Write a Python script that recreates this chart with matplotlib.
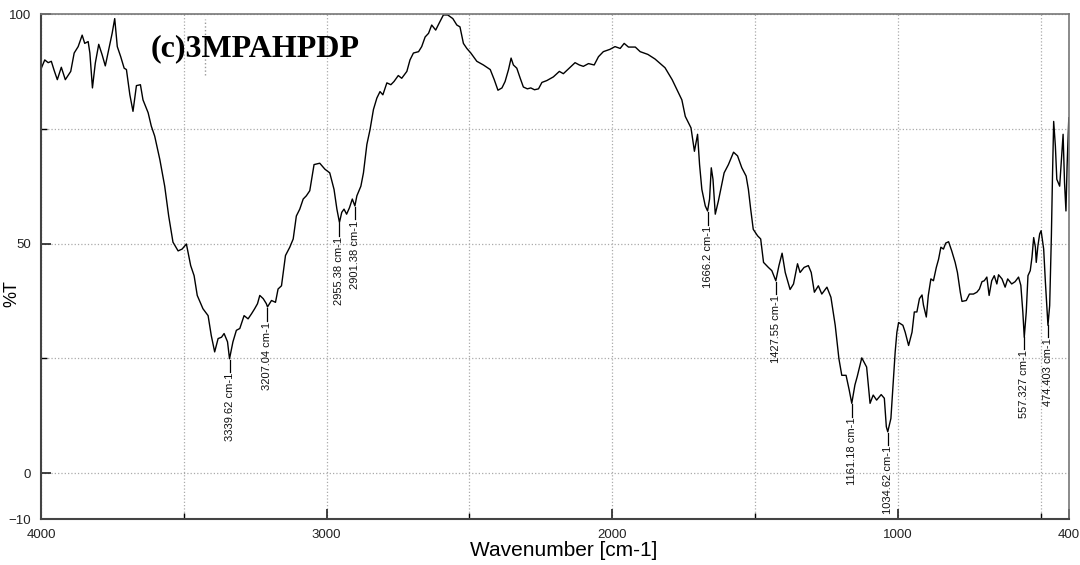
import numpy as np
import matplotlib
matplotlib.use("Agg")
import matplotlib.pyplot as plt

# traced IR spectrum (wavenumber in cm-1, transmittance in %T)
wavenumber = [
    3999, 3987, 3975, 3964, 3954, 3943, 3929, 3915, 3896, 3884, 3870, 3856,
    3847, 3835, 3829, 3820, 3810, 3798, 3786, 3775, 3763, 3751, 3742, 3733,
    3721, 3709, 3701, 3689, 3678, 3666, 3652, 3643, 3625, 3614, 3602, 3584,
    3567, 3553, 3538, 3520, 3506, 3491, 3476, 3464, 3453, 3433, 3415, 3404,
    3392, 3380, 3368, 3359, 3347, 3340, 3328, 3316, 3304, 3289, 3275, 3263,
    3252, 3242, 3234, 3222, 3211, 3207, 3193, 3179, 3170, 3158, 3144, 3129,
    3117, 3106, 3094, 3082, 3071, 3059, 3044, 3024, 3006, 2989, 2974, 2964,
    2955, 2947, 2939, 2930, 2920, 2910, 2901, 2894, 2880, 2871, 2859, 2848,
    2836, 2824, 2813, 2803, 2789, 2775, 2764, 2749, 2737, 2719, 2708, 2696,
    2678, 2667, 2655, 2643, 2632, 2618, 2606, 2591, 2576, 2558, 2544, 2533,
    2521, 2509, 2495, 2474, 2451, 2427, 2413, 2400, 2386, 2375, 2363, 2354,
    2346, 2334, 2322, 2311, 2297, 2285, 2272, 2258, 2246, 2229, 2206, 2185,
    2171, 2154, 2130, 2115, 2101, 2083, 2063, 2048, 2031, 2008, 1990, 1972,
    1958, 1943, 1919, 1902, 1875, 1850, 1815, 1790, 1769, 1756, 1744, 1733,
    1724, 1712, 1701, 1694, 1686, 1674, 1666, 1659, 1653, 1647, 1639, 1628,
    1608, 1593, 1575, 1561, 1546, 1531, 1523, 1515, 1506, 1491, 1480, 1470,
    1453, 1441, 1427, 1416, 1405, 1394, 1377, 1365, 1351, 1342, 1328, 1313,
    1303, 1292, 1278, 1266, 1248, 1234, 1219, 1206, 1196, 1181, 1170, 1161,
    1150, 1142, 1126, 1109, 1097, 1086, 1074, 1058, 1047, 1040, 1035, 1024,
    1015, 1009, 1003, 997, 982, 974, 962, 950, 942, 933, 924, 915,
    910, 900, 893, 884, 875, 865, 857, 849, 840, 832, 822, 811,
    799, 791, 781, 775, 760, 749, 735, 723, 714, 705, 697, 688,
    680, 671, 662, 653, 647, 635, 624, 615, 601, 589, 577, 569,
    562, 557, 550, 544, 536, 530, 524, 518, 515, 509, 503, 498,
    489, 483, 477, 474, 468, 462, 458, 454, 448, 443, 433, 427,
    421, 416, 411, 407, 401,
]
transmittance = [
    88.2, 90.0, 89.4, 89.7, 87.7, 85.7, 88.4, 85.7, 87.5, 91.5, 92.9, 95.4,
    93.6, 94.0, 91.5, 83.9, 89.3, 93.4, 91.1, 88.7, 92.2, 95.8, 99.0, 92.9,
    90.7, 88.2, 87.9, 82.4, 78.8, 84.4, 84.6, 81.3, 78.5, 75.6, 73.4, 68.3,
    62.5, 56.0, 50.3, 48.4, 48.8, 49.9, 45.2, 43.0, 38.7, 35.8, 34.3, 30.0,
    26.4, 29.3, 29.6, 30.4, 28.6, 24.9, 28.6, 31.1, 31.5, 34.3, 33.6, 34.7,
    35.8, 36.9, 38.7, 38.0, 36.9, 36.2, 37.6, 37.2, 40.1, 40.8, 47.4, 49.2,
    51.0, 56.0, 57.5, 59.7, 60.4, 61.5, 67.2, 67.5, 66.2, 65.4, 61.8, 57.5,
    54.6, 56.8, 57.5, 56.4, 57.8, 59.7, 58.2, 60.4, 62.5, 65.4, 71.6, 74.8,
    79.2, 81.7, 83.1, 82.4, 85.0, 84.6, 85.3, 86.6, 86.0, 87.5, 90.0, 91.5,
    91.8, 92.9, 95.0, 95.8, 97.6, 96.5, 98.0, 99.8, 99.8, 99.0, 97.6, 97.2,
    93.6, 92.5, 91.5, 89.7, 88.9, 87.9, 85.7, 83.4, 83.9, 85.3, 87.9, 90.4,
    88.9, 88.2, 86.0, 84.1, 83.7, 83.9, 83.5, 83.7, 85.1, 85.5, 86.3, 87.5,
    87.0, 88.0, 89.4, 88.9, 88.6, 89.2, 88.9, 90.7, 91.8, 92.3, 92.9, 92.5,
    93.6, 92.8, 92.8, 91.8, 91.2, 90.2, 88.3, 85.7, 83.0, 81.3, 77.7, 76.3,
    75.2, 70.1, 73.8, 67.2, 61.8, 58.2, 57.1, 59.7, 66.5, 64.0, 56.4, 59.3,
    65.4, 67.2, 69.9, 69.1, 66.5, 64.7, 61.8, 57.5, 53.1, 51.7, 51.0, 45.9,
    44.8, 44.1, 41.9, 45.2, 47.9, 43.7, 40.0, 41.2, 45.6, 43.7, 44.8, 45.2,
    43.7, 39.4, 40.8, 39.0, 40.5, 38.3, 32.2, 24.9, 21.3, 21.3, 18.1, 15.2,
    19.2, 21.0, 25.1, 23.1, 15.2, 17.0, 15.9, 17.1, 16.3, 10.1, 9.0, 11.9,
    20.6, 26.4, 30.7, 32.8, 32.2, 30.7, 27.8, 30.7, 35.1, 35.1, 38.0, 38.8,
    36.6, 34.0, 38.7, 42.3, 41.9, 44.8, 46.6, 49.2, 48.8, 50.1, 50.4, 48.4,
    45.9, 43.7, 39.4, 37.4, 37.6, 39.0, 39.0, 39.4, 40.1, 41.7, 41.9, 42.7,
    38.7, 41.9, 43.0, 41.2, 43.2, 42.3, 40.5, 42.3, 41.2, 41.7, 42.7, 40.9,
    35.1, 29.6, 35.1, 43.0, 44.1, 47.0, 51.3, 49.2, 45.9, 49.6, 52.1, 52.8,
    48.8, 41.6, 35.1, 32.2, 36.5, 51.7, 65.1, 76.6, 71.2, 64.0, 62.5, 68.3,
    73.8, 63.3, 57.1, 66.9, 77.4,
]

# labelled peaks
peak_wn = [3339.62, 3207.04, 2955.38, 2901.38, 1666.2, 1427.55,
           1161.18, 1034.62, 557.327, 474.403]
peak_labels = ["3339.62 cm-1", "3207.04 cm-1", "2955.38 cm-1", "2901.38 cm-1",
               "1666.2 cm-1", "1427.55 cm-1", "1161.18 cm-1", "1034.62 cm-1",
               "557.327 cm-1", "474.403 cm-1"]

x_ticks = [4000, 3000, 2000, 1000, 400]
x_minor = [3500, 2500, 1500, 500]
y_ticks = [100, 50, 0, -10]
y_minor = [75, 25]

fig = plt.figure(figsize=(10.8, 5.65), dpi=100)
ax = fig.add_axes([0.038, 0.0814, 0.9519, 0.8938])

ax.plot(wavenumber, transmittance, color="black", lw=1.0)

# peak markers: short tick under the dip, rotated label below
wn_rev = np.array(wavenumber[::-1], dtype=float)
t_rev = np.array(transmittance[::-1], dtype=float)
for wn, lab in zip(peak_wn, peak_labels):
    t = np.interp(wn, wn_rev, t_rev)
    ax.plot([wn, wn], [t - 0.3, t - 3.0], color="black", lw=0.9)
    ax.text(wn, t - 3.2, lab, rotation=90, ha="center", va="top",
            fontsize=8, family="Liberation Sans", color="#111111")

ax.text(3618, 92.4, "(c)3MPAHPDP", fontsize=23, fontweight="bold",
        family="Liberation Serif", va="center", ha="left")
# stray dotted cursor line near the title
ax.plot([0.159, 0.159], [0.88, 0.99], transform=ax.transAxes,
        color="#999999", lw=1.0, ls=":")

ax.set_xlim(4000, 400)
ax.set_ylim(-10, 100)
ax.set_xticks(x_ticks)
ax.set_xticks(x_minor, minor=True)
ax.set_yticks(y_ticks)
ax.set_yticks(y_minor, minor=True)
ax.grid(True, which="both", color="#aaaaaa", ls=":", lw=0.9)
ax.tick_params(which="major", direction="in", length=7, width=1.2,
               labelsize=9.5, colors="#222222", pad=7)
ax.tick_params(which="minor", direction="in", length=4, width=1.0)
for lab in ax.get_xticklabels() + ax.get_yticklabels():
    lab.set_family("Liberation Sans")

for side in ["top", "right"]:
    ax.spines[side].set_color("#777777")
    ax.spines[side].set_linewidth(1.2)
for side in ["left", "bottom"]:
    ax.spines[side].set_color("#444444")
    ax.spines[side].set_linewidth(1.5)

ax.set_xlabel("Wavenumber [cm-1]", fontsize=15, family="Liberation Sans")
ax.xaxis.set_label_coords(0.508, -0.043)
ax.set_ylabel("%T", fontsize=13, family="Liberation Sans")
ax.yaxis.set_label_coords(-0.02, 0.447)

fig.savefig("out.png", dpi=100)
